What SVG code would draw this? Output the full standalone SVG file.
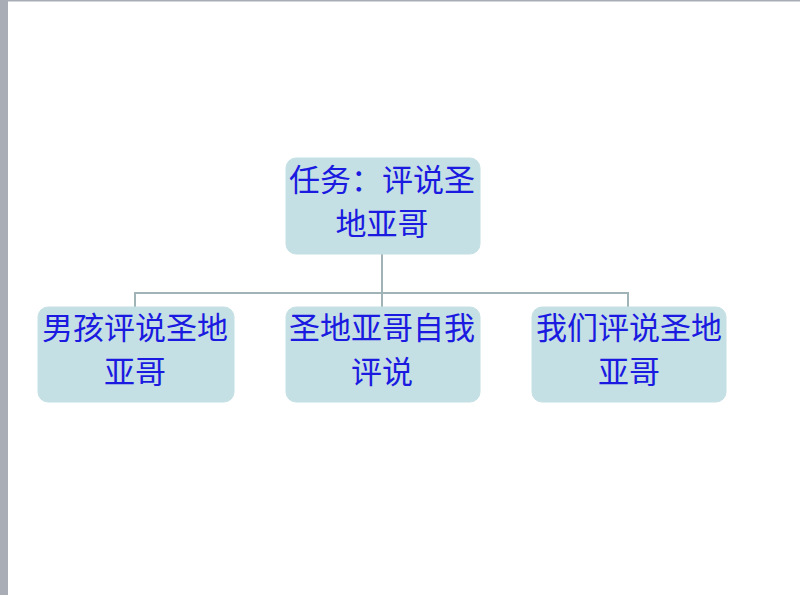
<svg xmlns="http://www.w3.org/2000/svg" width="800" height="595" viewBox="0 0 800 595">
<style>
.box{fill:#c5e0e4;stroke:#c5e0e4;stroke-width:1}
.t{font-family:"Noto Sans CJK SC","Noto Sans",sans-serif;font-size:31px;fill:#1a1ae0;text-anchor:middle}
.c{fill:none;stroke:#a0b4b8;stroke-width:2}
</style>
<rect x="0" y="0" width="800" height="595" fill="#ffffff"/>
<rect x="0" y="0" width="8" height="595" fill="#a9adb5"/>
<rect x="0" y="0" width="800" height="1.5" fill="#a9adb5"/>
<g id="connectors">
<path class="c" d="M382 254 V293"/>
<path class="c" d="M135 307 V293 H628 V307"/>
<path class="c" d="M382 293 V307"/>
</g>
<g id="root">
<rect class="box" x="286" y="158" width="194" height="96" rx="10"/>
<text class="t" x="382" y="191">任务：评说圣</text>
<text class="t" x="382" y="235">地亚哥</text>
</g>
<g id="n1">
<rect class="box" x="38" y="307" width="196" height="95" rx="10"/>
<text class="t" x="135" y="339">男孩评说圣地</text>
<text class="t" x="135" y="383">亚哥</text>
</g>
<g id="n2">
<rect class="box" x="286" y="307" width="194" height="95" rx="10"/>
<text class="t" x="382" y="339">圣地亚哥自我</text>
<text class="t" x="382" y="383">评说</text>
</g>
<g id="n3">
<rect class="box" x="532" y="307" width="194" height="95" rx="10"/>
<text class="t" x="629" y="339">我们评说圣地</text>
<text class="t" x="629" y="383">亚哥</text>
</g>
</svg>
